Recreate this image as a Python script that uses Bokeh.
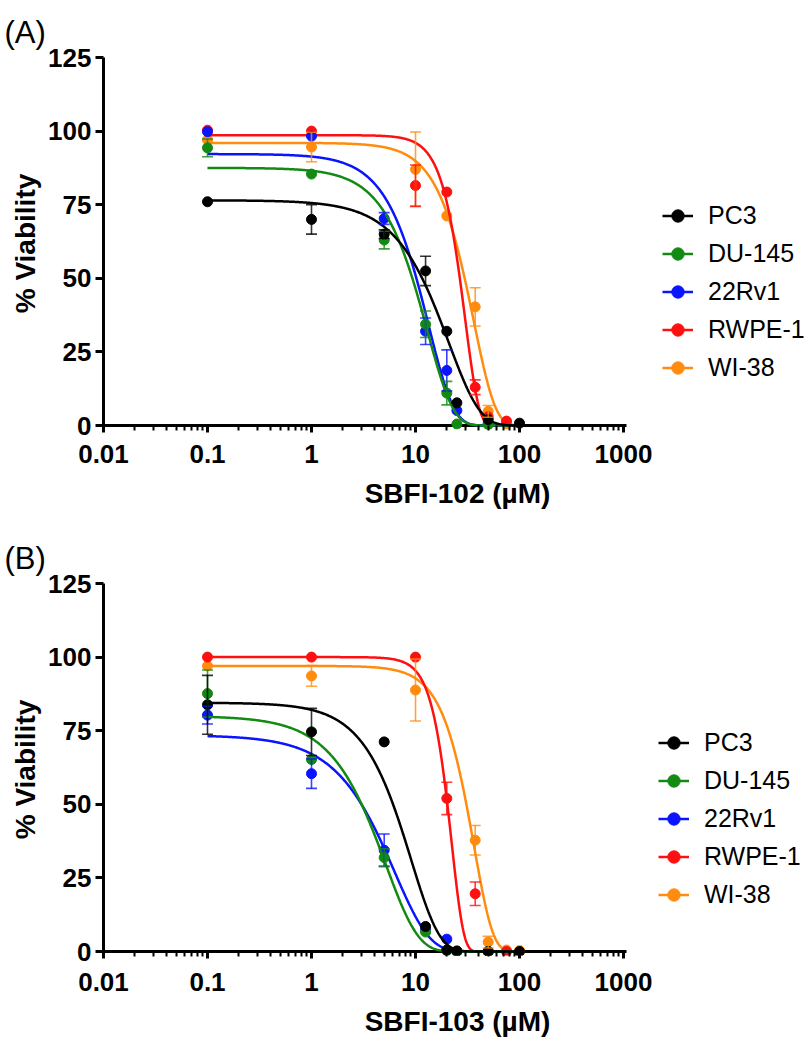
import numpy as np
from bokeh.plotting import figure
from bokeh.models import (ColumnDataSource, Whisker, TeeHead, FixedTicker,
                          Legend, LegendItem, Range1d)
from bokeh.layouts import column
from bokeh.embed import file_html
from bokeh.resources import INLINE

# ---------------- data ----------------
series = ["PC3", "DU-145", "22Rv1", "RWPE-1", "WI-38"]
colors = ["#000000", "#138A13", "#0A14FF", "#FF1010", "#FF8C0F"]

x_ticks = [0.01, 0.1, 1, 10, 100, 1000]
x_tick_labels = ["0.01", "0.1", "1", "10", "100", "1000"]
y_ticks = [0, 25, 50, 75, 100, 125]

# Panel A : SBFI-102
a_x = [
    [0.1, 1, 5, 12.5, 20, 25, 50, 100],          # PC3
    [0.1, 1, 5, 12.5, 20, 25, 50],               # DU-145
    [0.1, 1, 5, 12.5, 20, 25, 50],               # 22Rv1
    [0.1, 1, 10, 20, 37.5, 50, 75],              # RWPE-1
    [0.1, 1, 10, 20, 37.5, 50, 75],              # WI-38
]
a_y = [
    [76.0, 70.0, 65.0, 52.5, 32.0, 7.7, 2.0, 0.8],
    [94.3, 85.4, 63.0, 34.4, 11.0, 0.5, 0.3],
    [99.8, 98.3, 70.3, 32.0, 18.7, 5.1, 0.8],
    [100.3, 100.0, 81.5, 79.3, 13.0, 3.0, 1.5],
    [97.0, 94.6, 87.0, 71.2, 40.3, 4.8, 0.5],
]
a_err = [
    [0, 5, 1.5, 5, 0, 0, 0, 0],
    [3, 0, 3, 4.5, 4, 0, 0],
    [0, 0, 2, 4.5, 7, 0, 0],
    [0, 0, 7, 0, 2.5, 0, 0],
    [0, 5, 12.7, 0, 6.5, 2, 0],
]
# fitted-curve parameters (plateau, scale, steepness)
a_top = [76.5, 87.5, 92.2, 98.6, 96.0]
a_mid = [20.9, 13.0, 13.4, 30.0, 36.4]
a_slope = [1.45, 1.75, 1.8, 3.3, 2.1]

# Panel B : SBFI-103
b_x = [
    [0.1, 1, 5, 12.5, 20, 25, 50, 100],
    [0.1, 1, 5, 12.5, 20, 25, 50],
    [0.1, 1, 5, 12.5, 20, 25, 50],
    [0.1, 1, 10, 20, 37.5, 75],
    [0.1, 1, 10, 37.5, 50, 75, 100],
]
b_y = [
    [83.8, 74.6, 71.2, 8.5, 0.5, 0.2, 0.0, 0.0],
    [87.6, 65.2, 31.9, 6.6, 0.3, 0.0, 0.0],
    [80.3, 60.4, 34.4, 7.5, 4.2, 0.0, 0.0],
    [100.0, 100.0, 100.0, 52.0, 19.6, 0.0],
    [97.0, 93.6, 88.8, 37.8, 3.2, 0.5, 0.3],
]
b_err = [
    [10, 8, 0, 0, 0, 0, 0, 0],
    [8, 0, 3, 0, 0, 0, 0],
    [3, 5, 5.5, 0, 0, 0, 0],
    [0, 0, 0, 5.5, 4, 0],
    [0, 3.5, 10.5, 5, 2, 0, 0],
]
b_top = [84.5, 80.0, 73.5, 100.0, 97.0]
b_mid = [9.1, 5.2, 6.3, 22.3, 36.6]
b_slope = [1.6, 1.4, 1.3, 3.8, 2.4]

FONT = "Liberation Sans"
PX_PER_DECADE = 104
FRAME_W = 708
FRAME_H = 372
ZERO_OFFSET_PX = 4


def make_panel(tag, xlabel, xs, ys, errs, tops, mids, slopes,
               height, border_top, border_bottom, legend_loc, label_standoff):
    x_end = 10 ** (np.log10(x_ticks[0]) + FRAME_W / PX_PER_DECADE)
    y_start = -ZERO_OFFSET_PX * y_ticks[-1] / (FRAME_H - ZERO_OFFSET_PX)
    p = figure(width=811, height=height, x_axis_type="log",
               x_range=Range1d(x_ticks[0], x_end),
               y_range=Range1d(y_start, y_ticks[-1]),
               output_backend="svg", toolbar_location=None,
               min_border_left=103, min_border_right=0,
               min_border_top=border_top, min_border_bottom=border_bottom)
    p.outline_line_color = None
    p.grid.visible = False
    p.background_fill_color = "white"

    # title "(A)"/"(B)"
    p.title.text = tag
    p.title.text_font = FONT
    p.title.text_font_size = "31px"
    p.title.text_font_style = "normal"
    p.title.text_color = "black"
    p.title.align = "left"
    p.title.offset = -99
    p.title.standoff = 16

    # x axis line at y = 0 (drawn as glyph), ticks from the axis
    x_axis_end = x_ticks[-1] * 10 ** (3 / PX_PER_DECADE)
    p.line([x_ticks[0], x_axis_end], [0, 0], line_color="black", line_width=3)

    minors = [m * t for t in x_ticks[:-1] for m in range(2, 10)]
    xa = p.xaxis[0]
    xa.ticker = FixedTicker(ticks=x_ticks, minor_ticks=minors)
    xa.major_label_overrides = {t: l for t, l in zip(x_ticks, x_tick_labels)}
    xa.axis_line_color = None
    xa.major_tick_in = ZERO_OFFSET_PX
    xa.major_tick_out = 3
    xa.minor_tick_in = ZERO_OFFSET_PX
    xa.minor_tick_out = 1
    xa.major_tick_line_width = 3
    xa.minor_tick_line_width = 2
    xa.major_label_standoff = label_standoff
    xa.axis_label = xlabel
    xa.axis_label_standoff = 12

    ya = p.yaxis[0]
    ya.ticker = FixedTicker(ticks=y_ticks, minor_ticks=[])
    ya.axis_line_width = 3
    ya.major_tick_in = 0
    ya.major_tick_out = 8
    ya.major_tick_line_width = 3
    ya.minor_tick_line_color = None
    ya.major_label_standoff = 4
    ya.axis_label = "% Viability"
    ya.axis_label_standoff = 4

    for ax in (xa, ya):
        ax.major_label_text_font = FONT
        ax.major_label_text_font_size = "26px"
        ax.major_label_text_font_style = "bold"
        ax.major_label_text_color = "black"
        ax.axis_label_text_font = FONT
        ax.axis_label_text_font_size = "28px"
        ax.axis_label_text_font_style = "bold"
        ax.axis_label_text_color = "black"
        ax.major_tick_line_color = "black"

    lines = [None] * 5
    dots = [None] * 5
    curve_x = np.logspace(-1, 2, 500)
    for i in reversed(range(5)):
        col = colors[i]
        curve_y = tops[i] * np.exp(-(curve_x / mids[i]) ** slopes[i])
        lines[i] = p.line(curve_x, curve_y, line_color=col, line_width=2.5)
        bx = [x for x, e in zip(xs[i], errs[i]) if e > 0]
        by = [y for y, e in zip(ys[i], errs[i]) if e > 0]
        be = [e for e in errs[i] if e > 0]
        if bx:
            src = ColumnDataSource(dict(base=bx,
                                        upper=[y + e for y, e in zip(by, be)],
                                        lower=[y - e for y, e in zip(by, be)]))
            w = Whisker(base="base", upper="upper", lower="lower", source=src,
                        dimension="height", line_color=col, line_width=1.6,
                        line_alpha=0.8, level="glyph",
                        upper_head=TeeHead(size=11, line_color=col, line_width=1.6, line_alpha=0.8),
                        lower_head=TeeHead(size=11, line_color=col, line_width=1.6, line_alpha=0.8))
            p.add_layout(w)
        dots[i] = p.scatter(xs[i], ys[i], size=10, fill_color=col, line_color=col)

    items = [LegendItem(label=series[i], renderers=[lines[i], dots[i]]) for i in range(5)]
    legend = Legend(items=items, location=legend_loc,
                    label_text_font=FONT, label_text_font_size="25px",
                    label_text_color="black",
                    glyph_width=31, glyph_height=31, label_height=31,
                    spacing=7, label_standoff=15, padding=0, margin=0,
                    border_line_color=None, background_fill_alpha=0)
    p.add_layout(legend)
    return p


pA = make_panel("(A)", "SBFI-102 (µM)", a_x, a_y, a_err, a_top, a_mid, a_slope,
                height=520, border_top=57, border_bottom=91, legend_loc=(559, 46),
                label_standoff=12)
pB = make_panel("(B)", "SBFI-103 (µM)", b_x, b_y, b_err, b_top, b_mid, b_slope,
                height=522, border_top=63, border_bottom=87, legend_loc=(555, 45),
                label_standoff=14)

layout = column(pA, pB, spacing=0)
open("out.html", "w").write(file_html(layout, INLINE))
